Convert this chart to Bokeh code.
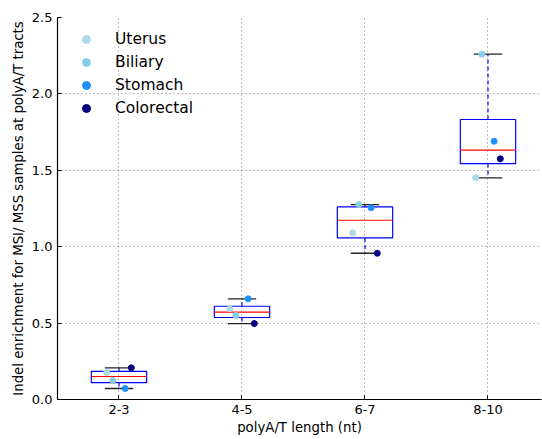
import numpy as np
from bokeh.plotting import figure
from bokeh.models import Range1d, FixedTicker, PrintfTickFormatter, Legend, LegendItem
from bokeh.embed import file_html
from bokeh.resources import INLINE

# Indel enrichment (MSI / MSS) per polyA/T tract length, one value per cancer type
categories = ["2-3", "4-5", "6-7", "8-10"]
uterus = [0.177, 0.594, 1.091, 1.451]
biliary = [0.124, 0.550, 1.276, 2.260]
stomach = [0.072, 0.659, 1.255, 1.690]
colorectal = [0.207, 0.497, 0.957, 1.575]

series = [
    ("Uterus", uterus, "#add8e6", -0.10),
    ("Biliary", biliary, "#87ceeb", -0.05),
    ("Stomach", stomach, "#1e90ff", 0.05),
    ("Colorectal", colorectal, "#000080", 0.10),
]

FONT = "DejaVu Sans"
positions = np.arange(1, len(categories) + 1)
box_w = 0.45
cap_w = 0.23

p = figure(width=542, height=439, output_backend="svg", toolbar_location=None,
           x_range=Range1d(0.5, 4.435), y_range=Range1d(0, 2.5),
           min_border_left=57, min_border_right=1, min_border_top=17, min_border_bottom=40)
p.background_fill_color = "white"
p.border_fill_color = "white"
p.outline_line_color = None

# box statistics computed from the four values of each group
q1s, meds, q3s, los, his = [], [], [], [], []
for i in range(len(categories)):
    vals = np.array([s[1][i] for s in series])
    q1, med, q3 = np.percentile(vals, [25, 50, 75])
    iqr = q3 - q1
    lo = vals[vals >= q1 - 1.5 * iqr].min()
    hi = vals[vals <= q3 + 1.5 * iqr].max()
    q1s.append(q1); meds.append(med); q3s.append(q3); los.append(lo); his.append(hi)

left = positions - box_w / 2
right = positions + box_w / 2
p.quad(left=left, right=right, bottom=q1s, top=q3s, fill_color=None,
       line_color="#0000ff", line_width=1.2)
p.segment(x0=left, x1=right, y0=meds, y1=meds, line_color="#ff0000", line_width=1.2)
p.segment(x0=positions, x1=positions, y0=q3s, y1=his, line_color="#0000ff",
          line_width=1.2, line_dash="4 3")
p.segment(x0=positions, x1=positions, y0=q1s, y1=los, line_color="#0000ff",
          line_width=1.2, line_dash="4 3")
p.segment(x0=positions - cap_w / 2, x1=positions + cap_w / 2, y0=his, y1=his,
          line_color="#222222", line_width=1.3)
p.segment(x0=positions - cap_w / 2, x1=positions + cap_w / 2, y0=los, y1=los,
          line_color="#222222", line_width=1.3)

items = []
for name, vals, color, off in series:
    r = p.scatter(x=positions + off, y=vals, size=6, marker="circle",
                  fill_color=color, line_color=color)
    items.append(LegendItem(label=name, renderers=[r]))

legend = Legend(items=items, location=(19, 281), border_line_color=None,
                background_fill_alpha=0, margin=0, padding=0,
                glyph_width=20, glyph_height=20, label_height=20, spacing=3,
                label_standoff=19, label_text_font=FONT, label_text_font_size="15.5px",
                label_text_color="black")
p.add_layout(legend)

# axes: only the left and bottom spines are drawn
p.xaxis.ticker = FixedTicker(ticks=list(positions))
p.xaxis.major_label_overrides = {int(x): c for x, c in zip(positions, categories)}
p.yaxis.ticker = FixedTicker(ticks=[0.0, 0.5, 1.0, 1.5, 2.0, 2.5])
p.yaxis.formatter = PrintfTickFormatter(format="%.1f")
p.xaxis.axis_label = "polyA/T length (nt)"
p.yaxis.axis_label = "Indel enrichment for MSI/ MSS samples at polyA/T tracts"
for ax in (p.xaxis, p.yaxis):
    ax.axis_line_color = "black"
    ax.axis_line_width = 1.2
    ax.major_tick_in = 4
    ax.major_tick_out = 0
    ax.major_tick_line_color = "black"
    ax.minor_tick_line_color = None
    ax.major_label_text_font = FONT
    ax.major_label_text_font_size = "13px"
    ax.major_label_text_color = "black"
    ax.axis_label_text_font = FONT
    ax.axis_label_text_font_size = "13.3px"
    ax.axis_label_text_font_style = "normal"
    ax.axis_label_text_color = "black"
p.xaxis.major_label_standoff = 5
p.xaxis.axis_label_standoff = 3
p.yaxis.major_label_standoff = 5
p.yaxis.axis_label_standoff = 3

p.grid.grid_line_color = "black"
p.grid.grid_line_alpha = 0.7
p.grid.grid_line_width = 0.7
p.grid.grid_line_dash = "1 3"

open("out.html", "w").write(file_html(p, INLINE))
